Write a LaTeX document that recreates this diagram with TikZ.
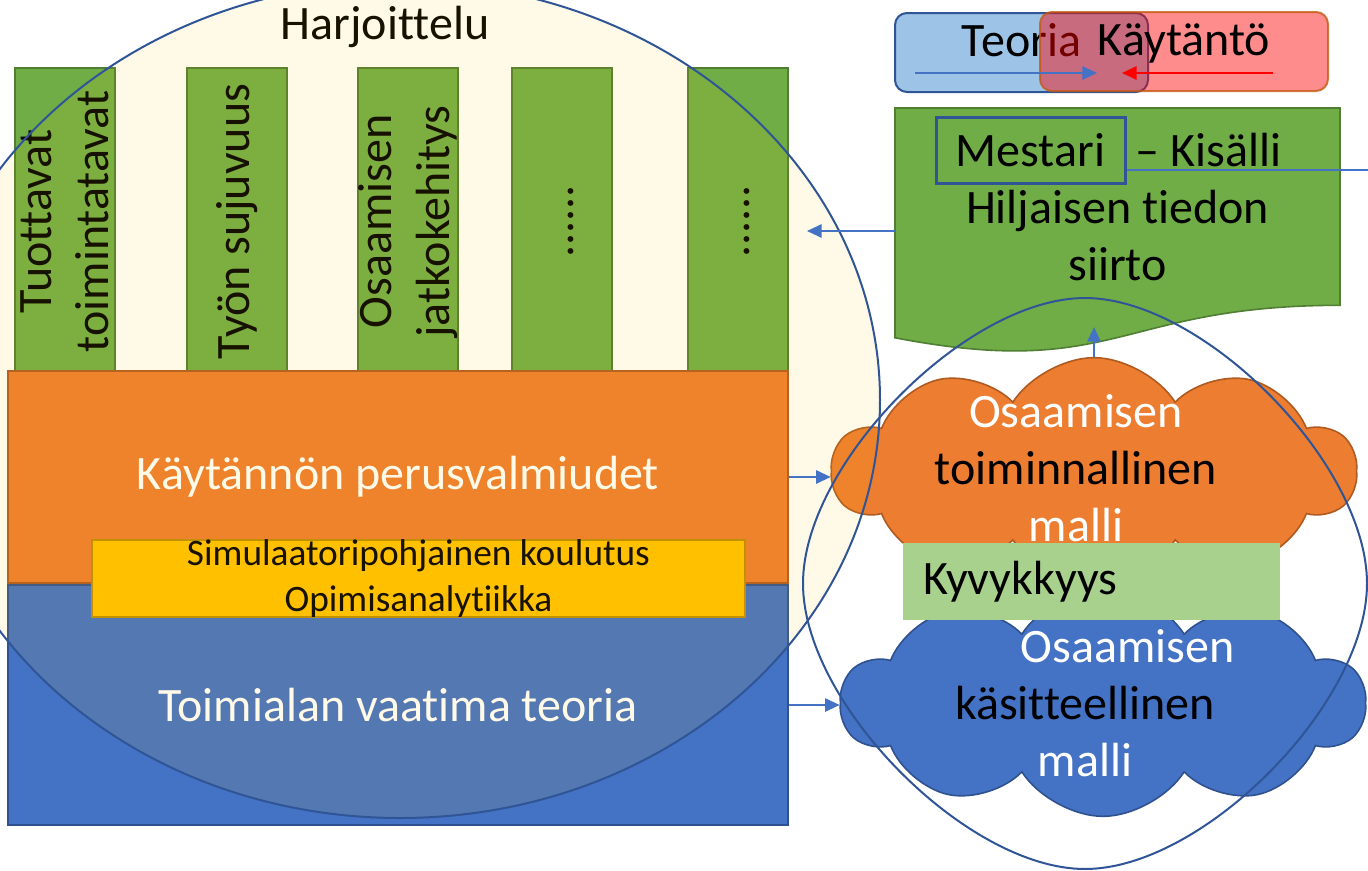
\documentclass[tikz,border=0pt]{standalone}
\usepackage{fontspec}
\setmainfont{Carlito}[Ligatures={TeX,NoCommon}]
\usetikzlibrary{arrows.meta, shapes.symbols}
\definecolor{grn}{HTML}{70AD47}
\definecolor{grnD}{HTML}{507E32}
\definecolor{org}{HTML}{ED7D31}
\definecolor{orgD}{HTML}{AE5A21}
\definecolor{blu}{HTML}{4472C4}
\definecolor{bluD}{HTML}{2F528F}
\definecolor{navy}{HTML}{2F5597}
\definecolor{gold}{HTML}{FFC000}
\definecolor{goldD}{HTML}{BC8C00}
\definecolor{lgrn}{HTML}{A9D18E}
\definecolor{sky}{HTML}{9DC3E6}
\definecolor{rust}{HTML}{C55A11}
\newcommand{\txtL}{\fontsize{36}{43}\selectfont}
\newcommand{\txtS}{\fontsize{28}{34}\selectfont}

\begin{document}
\begin{tikzpicture}[x=0.75pt, y=-0.75pt,
  font=\txtL, >={Triangle[length=11pt, width=10pt]},
  col/.style={draw=grnD, line width=1.2pt, fill=grn, minimum width=75pt, minimum height=230.25pt},
  coltxt/.style={rotate=90, align=center, inner sep=0pt},
  bar/.style={line width=1.2pt, minimum width=585pt, text=white},
  tag/.style={line width=1.5pt, rounded corners=9pt, minimum height=59.25pt, text height=0.65em, text depth=0pt},
  cloudy/.style={cloud, cloud puffs=10, cloud puff arc=115, cloud ignores aspect, minimum width=393pt, minimum height=170pt, line width=1.2pt},
  cloudtxt/.style={align=center, inner sep=0pt},
  arr/.style={->, draw=blu, line width=1.5pt},
]
  \useasboundingbox (0,0) rectangle (1368,871);

  \node[col] (c1) at (65,221.5) {};
  \node[col] (c2) at (237,221.5) {};
  \node[col] (c3) at (408,221.5) {};
  \node[col] (c4) at (562,221.5) {};
  \node[col] (c5) at (738,221.5) {};
  \node[coltxt] (c1t) at (c1) {Tuottavat\\toimintatavat};
  \node[coltxt] (c2t) at (c2) {Työn sujuvuus};
  \node[coltxt] (c3t) at (c3) {Osaamisen\\jatkokehitys};
  \node[coltxt] (c4t) at (c4) {\strut......};
  \node[coltxt] (c5t) at (c5) {\strut......};

  \node[bar, fill=org, draw=orgD, minimum height=159pt] (prak) at (398,477) {Käytännön perusvalmiudet};
  \node[bar, fill=blu, draw=bluD, minimum height=180pt] (teor) at (398,705) {Toimialan vaatima teoria};
  \node[draw=goldD, fill=gold, line width=1.2pt, minimum width=489.75pt, minimum height=57.75pt,
        font=\txtS, align=center, inner sep=0pt] (sim) at (418.5,578.5) {Simulaatoripohjainen koulutus\\Opimisanalytiikka};
  \node (harj) at (385,27) {Harjoittelu};

  % oikea puoli
  \draw[grnD, fill=grn, line width=1.2pt] (895,108) -- (1340,108) -- (1340,305.3)
    .. controls (1117.5,305.3) and (1117.5,380.4) .. (895,337.8) -- cycle;
  \node[align=center, inner sep=0pt, anchor=base] (doc) at (1117.5,280.7) {\phantom{Mestari}\ \ \ – Kisälli\\Hiljaisen tiedon\\siirto};
  \node[draw=navy, line width=2.25pt, minimum width=141.75pt, minimum height=49.5pt, inner sep=0pt] (mest) at (1030.5,150) {Mestari};
  \coordinate (edgeR) at (1370,170);
  \draw[blu, line width=0.9pt] (mest.east |- edgeR) -- (edgeR);

  \node[tag, draw=navy, fill=sky, minimum width=189.75pt] (teo) at (1021.5,52.5) {Teoria};
  \node[tag, draw=rust, fill=red, fill opacity=0.45, draw opacity=0.8, text opacity=1, minimum width=216pt] (kay) at (1184,51.5) {Käytäntö};

  \node[cloudy, fill=org, draw=orgD] (ocl) at (1094,471) {};
  \node[cloudtxt] (oclt) at (1076,468) {\textcolor{white}{Osaamisen}\\toiminnallinen\\\textcolor{white}{malli}};
  \node[cloudy, fill=blu, draw=bluD] (bcl) at (1103,703) {};
  \node[cloudtxt] (bclt) at (1085,703) {\hspace*{64pt}\textcolor{white}{Osaamisen}\\käsitteellinen\\\textcolor{white}{malli}};
  \node[fill=lgrn, text width=252.75pt, inner xsep=15pt, minimum height=57.75pt, align=left] (kyv) at (1091.5,581.5) {Kyvykkyys};

  \draw[navy, line width=1.5pt, fill=gold, fill opacity=0.09] (400,400) ellipse [x radius=360pt, y radius=313.5pt];
  \draw[navy, line width=1.5pt] (1367,583.5) .. controls (1367,463.6) and (1203.4,298) .. (1085,298)
    .. controls (966.6,298) and (803,463.6) .. (803,583.5)
    .. controls (803,703.4) and (966.6,869) .. (1085,869)
    .. controls (1203.4,869) and (1367,703.4) .. cycle;

  \coordinate (docL) at (895,231);
  \coordinate (colsR) at (807,231);
  \coordinate (docB) at (1094,327);
  \coordinate (tA) at (915,73);
  \coordinate (tB) at (1097,73);
  \coordinate (kA) at (1273,73);
  \coordinate (kB) at (1122,73);
  \draw[arr] (docL) -- (colsR);
  \draw[arr] (prak.east) -- (prak.east -| ocl.west);
  \draw[arr] (teor.east) -- (teor.east -| bcl.west);
  \draw[arr] (ocl.north) -- (docB);
  \draw[arr] (tA) -- (tB);
  \draw[arr, draw=red] (kA) -- (kB);
\end{tikzpicture}
\end{document}
